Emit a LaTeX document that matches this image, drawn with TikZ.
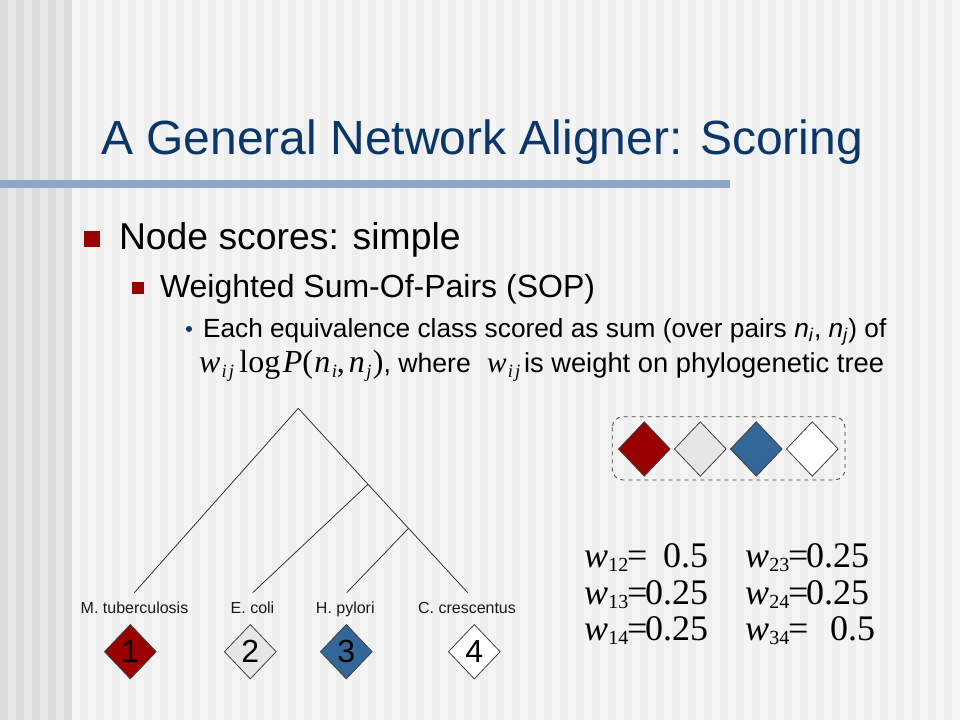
\documentclass[tikz,border=0pt]{standalone}
\usepackage{fontspec}
\setmainfont{Liberation Sans}
\newfontfamily\tnr{Liberation Serif}
\usetikzlibrary{shapes.geometric}
\definecolor{bgdark}{HTML}{DBDBDB}
\definecolor{bglight}{HTML}{E7E7E7}
\definecolor{bgmain}{HTML}{F5F5F5}
\definecolor{bgstripe}{HTML}{EEEEEE}
\definecolor{titlecol}{HTML}{0A376A}
\definecolor{barcol}{HTML}{8DA8C6}
\definecolor{bulletred}{HTML}{990000}
\definecolor{dred}{HTML}{990000}
\definecolor{dgray}{HTML}{E6E6E6}
\definecolor{dblue}{HTML}{336699}
\newcommand{\wsub}[1]{{\itshape w}\kern0.3pt\raisebox{-3.5pt}{\fontsize{15}{15}\selectfont #1}}
\newcommand{\wij}{{\itshape w}\kern1pt\raisebox{-4pt}{\fontsize{14}{14}\selectfont\itshape i\kern1.5pt j}}
\begin{document}
\begin{tikzpicture}[x=0.75pt,y=-0.75pt,
  txt/.style={inner sep=0pt,outer sep=0pt,anchor=base west},
  eqtxt/.style={txt,font=\tnr\fontsize{27}{27}\selectfont},
  leaf/.style={inner sep=0pt,outer sep=0pt,anchor=base,font=\fontsize{12}{12}\selectfont,text=black!90},
  dia/.style={diamond,draw=black!75,line width=0.6pt,minimum width=39pt,minimum height=41pt,inner sep=0pt,font=\fontsize{24}{24}\selectfont},
  branch/.style={draw=black!85,line width=0.55pt}]
\useasboundingbox (0,0) rectangle (960,720);
% background
\fill[bgmain] (0,0) rectangle (960,720);
\fill[bglight] (0,0) rectangle (72,720);
\foreach \i in {0,...,4} \fill[bgdark] (\i*16,0) rectangle ++(8,720);
\foreach \i in {0,...,54} \fill[bgstripe] (80+\i*16,0) rectangle ++(8,720);
% title
\node[txt,font=\fontsize{36}{36}\selectfont,text=titlecol] (title) at (101,155) {A General Network Aligner: Scoring};
\fill[barcol] (0,180) rectangle (730,188);
% bullets
\fill[bulletred] (84,231) rectangle (100,247);
\node[txt,font=\fontsize{28}{28}\selectfont] (b1) at (119,250) {Node scores: simple};
\fill[bulletred] (132,282) rectangle (144,294);
\node[txt,font=\fontsize{24}{24}\selectfont] (b2) at (160,297.5) {Weighted Sum-Of-Pairs (SOP)};
\fill[titlecol] (189,329) circle (3);
\node[txt,font=\fontsize{19.7}{20}\selectfont] (b3) at (203,337.5) {Each equivalence class scored as sum (over pairs \textit{n}\textsubscript{\textit{i}}, \textit{n}\textsubscript{\textit{j}}) of};
\node[txt,font=\tnr\fontsize{24}{24}\selectfont] (f1) at (199,372) {\wij\kern4pt log\kern2pt{\itshape P}(\kern1pt{\itshape n}\kern1pt\raisebox{-4pt}{\fontsize{14}{14}\selectfont\itshape i},\kern3pt{\itshape n}\kern1pt\raisebox{-4pt}{\fontsize{14}{14}\selectfont\itshape j}\kern1pt)};
\node[txt,font=\fontsize{20}{20}\selectfont] (b3b) at (f1.base east) {, where};
\node[txt,font=\tnr\fontsize{22}{22}\selectfont] (f2) at (487,372) {\wij};
\node[txt,font=\fontsize{20.5}{20}\selectfont] (b3c) at (524,372) {is weight on phylogenetic tree};
% tree
\coordinate (root) at (298.3,408.3);
\coordinate (nA) at (368,484.3);
\coordinate (nB) at (408.5,528.3);
\coordinate (l1) at (134.3,592.7);
\coordinate (l2) at (252.7,592.7);
\coordinate (l3) at (346.7,592.7);
\coordinate (l4) at (467.7,592.7);
\draw[branch] (l1) -- (root) -- (nA) -- (nB) -- (l4);
\draw[branch] (nA) -- (l2);
\draw[branch] (nB) -- (l3);
\node[leaf] (t1) at (134.5,613.3) {M. tuberculosis};
\node[leaf] (t2) at (252.5,613.3) {E. coli};
\node[leaf] (t3) at (345.3,613.3) {H. pylori};
\node[leaf] (t4) at (467,613.3) {C. crescentus};
\node[dia,fill=dred] (d1) at (130.3,651.7) {1};
\node[dia,fill=dgray] (d2) at (250.3,651.7) {2};
\node[dia,fill=dblue] (d3) at (346.3,651.7) {3};
\node[dia,fill=white] (d4) at (474.3,651.7) {4};
% equivalence class
\draw[dashed,draw=black!75,line width=0.6pt,rounded corners=8pt] (612.3,416.7) rectangle (845,480);
\node[dia,fill=dred] (e1) at (644.3,449) {};
\node[dia,fill=dgray] (e2) at (700.3,449) {};
\node[dia,fill=dblue] (e3) at (756.3,449) {};
\node[dia,fill=white] (e4) at (812.3,449) {};
% weights
\node[eqtxt] (w12) at (584,567) {\wsub{12}};
\node[eqtxt] (q12) at (627,567) {=};
\node[eqtxt] (v12) at (663,567) {0.5};
\node[eqtxt] (w13) at (584,604) {\wsub{13}};
\node[eqtxt] (q13) at (627,604) {=};
\node[eqtxt] (v13) at (645,604) {0.25};
\node[eqtxt] (w14) at (584,640) {\wsub{14}};
\node[eqtxt] (q14) at (627,640) {=};
\node[eqtxt] (v14) at (645,640) {0.25};
\node[eqtxt] (w23) at (745,567) {\wsub{23}};
\node[eqtxt] (q23) at (788,567) {=};
\node[eqtxt] (v23) at (806,567) {0.25};
\node[eqtxt] (w24) at (745,604) {\wsub{24}};
\node[eqtxt] (q24) at (788,604) {=};
\node[eqtxt] (v24) at (806,604) {0.25};
\node[eqtxt] (w34) at (745,640) {\wsub{34}};
\node[eqtxt] (q34) at (788,640) {=};
\node[eqtxt] (v34) at (830,640) {0.5};
\end{tikzpicture}
\end{document}
